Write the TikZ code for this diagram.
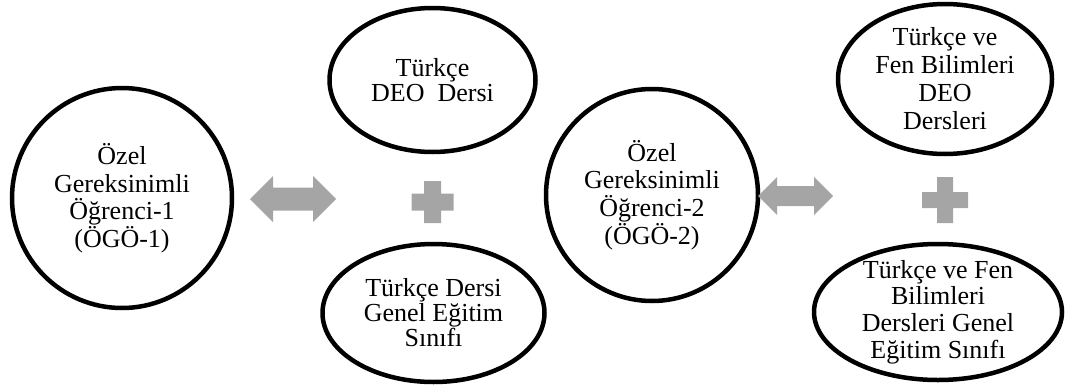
\documentclass[tikz,border=0pt]{standalone}
\usepackage{fontspec}
\setmainfont{Liberation Serif}
\definecolor{arrowgray}{HTML}{A5A5A5}
\tikzset{
  ring/.style={draw=black, line width=4.5pt},
  lbl/.style={align=center, inner sep=0pt},
  block/.style={fill=arrowgray},
}
\newcommand{\lblfont}[1]{\fontsize{26}{#1}\selectfont}
\begin{document}
\begin{tikzpicture}[x=1pt,y=-1pt]
\useasboundingbox (0,0) rectangle (1065,391);

% left student circle
\node[lbl, font=\lblfont{27.5}] (ogo1) at (122,198) {Özel\\Gereksinimli\\Öğrenci-1\\(ÖGÖ-1)};
\draw[ring] (ogo1.center) circle[radius=110];

% middle student circle
\node[lbl, font=\lblfont{27.7}] (ogo2) at (652,195) {Özel\\Gereksinimli\\Öğrenci-2\\(ÖGÖ-2)};
\draw[ring] (ogo2.center) circle[radius=106];

% middle ellipses
\node[lbl, font=\lblfont{25}] (deo1) at (432.5,80) {Türkçe\\DEO~ Dersi};
\draw[ring] (deo1.center) ellipse[x radius=103, y radius=72];

\node[lbl, font=\lblfont{25}] (gen1) at (433.5,313) {Türkçe Dersi\\Genel Eğitim\\Sınıfı};
\draw[ring] (gen1.center) ellipse[x radius=111, y radius=69];

% right ellipses
\node[lbl, font=\lblfont{28}] (deo2) at (945,79) {Türkçe ve\\Fen Bilimleri\\DEO\\Dersleri};
\draw[ring] (deo2.center) ellipse[x radius=107, y radius=75];

\node[lbl, font=\lblfont{26.7}] (gen2) at (938,312) {Türkçe ve Fen\\Bilimleri\\Dersleri Genel\\Eğitim Sınıfı};
\draw[ring] (gen2.center) ellipse[x radius=124, y radius=68];

% double arrows
\coordinate (arr1) at (293,199);
\fill[block, shift={(arr1)}] (-43,0) -- (-20,-23) -- (-20,-11.5) -- (20,-11.5) -- (20,-23) -- (43,0)
  -- (20,23) -- (20,11.5) -- (-20,11.5) -- (-20,23) -- cycle;

\coordinate (arr2) at (795.5,196);
\fill[block, shift={(arr2)}] (-37.5,0) -- (-18.5,-19) -- (-18.5,-10) -- (18.5,-10) -- (18.5,-19) -- (37.5,0)
  -- (18.5,19) -- (18.5,10) -- (-18.5,10) -- (-18.5,19) -- cycle;

% plus signs
\coordinate (plus1) at (432.5,202);
\fill[block, shift={(plus1)}] (-8.5,-21) -- (8.5,-21) -- (8.5,-8.5) -- (21,-8.5) -- (21,8.5) -- (8.5,8.5)
  -- (8.5,21) -- (-8.5,21) -- (-8.5,8.5) -- (-21,8.5) -- (-21,-8.5) -- (-8.5,-8.5) -- cycle;

\coordinate (plus2) at (945,200);
\fill[block, shift={(plus2)}] (-8,-23) -- (8,-23) -- (8,-8) -- (23,-8) -- (23,8) -- (8,8)
  -- (8,23) -- (-8,23) -- (-8,8) -- (-23,8) -- (-23,-8) -- (-8,-8) -- cycle;
\end{tikzpicture}
\end{document}
